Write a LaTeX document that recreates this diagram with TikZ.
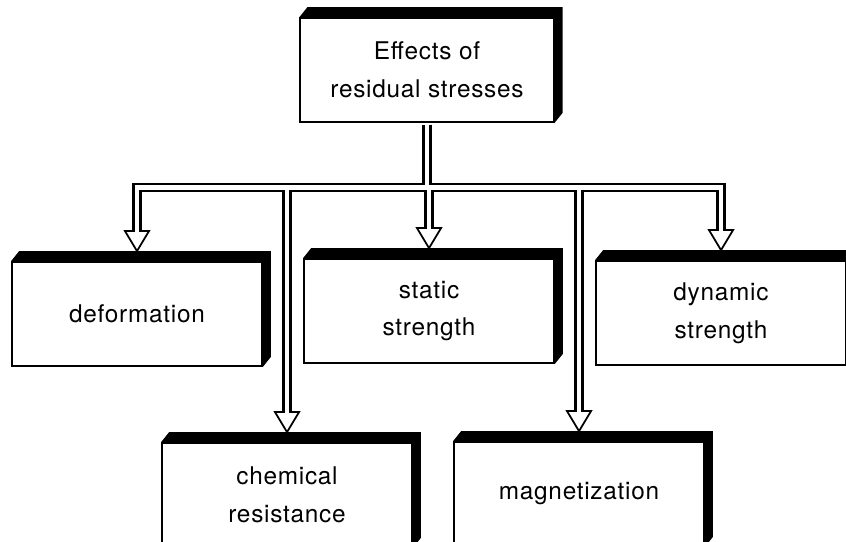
\documentclass[tikz,border=0pt]{standalone}
\usepackage{fontspec}
\setmainfont{TeX Gyre Heros}[LetterSpace=3]
\usetikzlibrary{backgrounds}

\begin{document}
\begin{tikzpicture}[
	x=0.03cm, y=-0.03cm,
	every node/.style={font=\fontsize{20.8}{32.3}\selectfont, align=center},
	effect/.style={draw, line width=1.5pt, fill=white, minimum width=7.5cm, minimum height=3.12cm, inner sep=0pt},
	pipeout/.style={line width=7.8pt, black},
	pipein/.style={line width=4.2pt, white},
	head/.style={draw, line width=1.5pt, fill=white, line join=miter}
	]
	\path[use as bounding box, clip] (0,0) rectangle (846,542);
	
	% Boxes
	\node[effect, minimum width=7.6cm] (top) at (427,70) {Effects of\\residual stresses};
	\node[effect] (def) at (137,314) {deformation};
	\node[effect] (stat) at (429,311) {static\\strength};
	\node[effect] (dyn) at (721,313) {dynamic\\strength};
	\node[effect] (chem) at (287,495) {chemical\\resistance};
	\node[effect] (magn) at (579,494) {magnetization};
	
	% Solid top and right faces
	\begin{scope}[on background layer]
		\foreach \b in {top,def,stat,dyn,chem,magn}
		\fill (\b.north west) -- ([shift={(8,-10)}]\b.north west) -- ([shift={(8,-10)}]\b.north east)
			-- ([shift={(8,-10)}]\b.south east) -- (\b.south east) -- cycle;
	\end{scope}
	
	% Hollow arrows
	\coordinate (bar) at ([shift={(0,65)}]top.south);
	\foreach \b in {def,stat,dyn,chem,magn}
	\draw[pipeout] ([shift={(0,2)}]top.south) -- (bar) -| ([shift={(0,-30)}]\b.north);
	\foreach \b in {def,stat,dyn,chem,magn}
	\draw[head] ([shift={(0,-10)}]\b.north) -- ++(-12,-20) -- ++(24,0) -- cycle;
	\foreach \b in {def,stat,dyn,chem,magn}
	\draw[pipein] ([shift={(0,2)}]top.south) -- (bar) -| ([shift={(0,-28)}]\b.north);
\end{tikzpicture}
\end{document}
